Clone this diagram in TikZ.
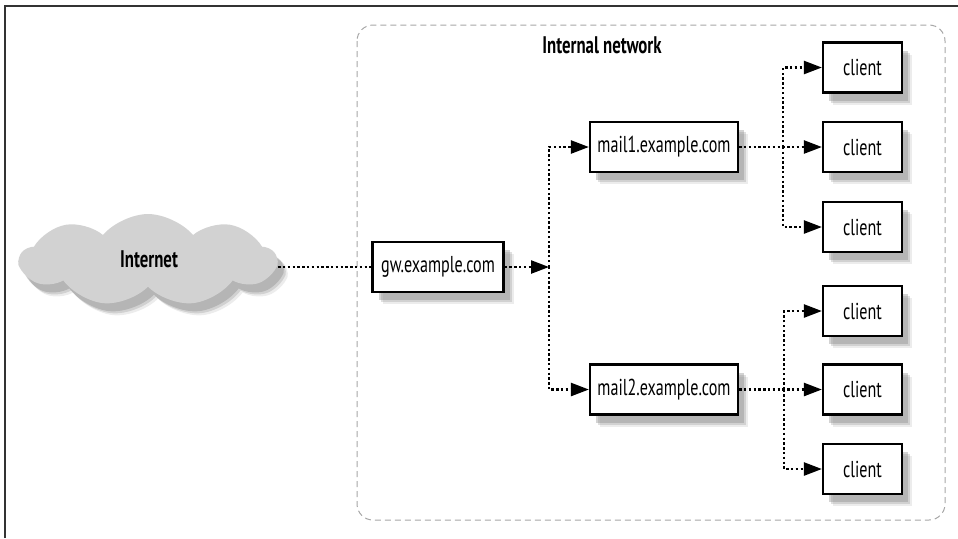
\documentclass[tikz,border=0pt]{standalone}
\usepackage{fontspec}
\setmainfont{PT Sans}[FakeStretch=0.7]
\usepackage{tikz}
\usetikzlibrary{arrows.meta, positioning, shapes.symbols, shadows}

\tikzset{
	softshadow/.style={
		drop shadow={shadow xshift=5pt, shadow yshift=-6pt, fill=gray, opacity=0.15},
		drop shadow={shadow xshift=4pt, shadow yshift=-5pt, fill=gray, opacity=0.25},
		drop shadow={shadow xshift=3pt, shadow yshift=-4pt, fill=gray, opacity=0.35}},
	hostbox/.style={draw=black, line width=1.1pt, fill=white, minimum height=25pt, inner sep=2pt, softshadow},
	clientbox/.style={hostbox, minimum width=39.5pt},
	mailbox/.style={hostbox, minimum width=74pt},
	titlelabel/.style={font=\bfseries\fontsize{12}{14}\selectfont},
	link/.style={line width=1.2pt, dash pattern=on 1.2pt off 1.2pt},
	linkarrow/.style={link, -{Triangle[length=9pt, width=6.5pt]}},
}

\begin{document}
\begin{tikzpicture}[x=0.5pt, y=-0.5pt, font=\fontsize{11.5}{13}\selectfont]
	\useasboundingbox (0,0) rectangle (958,538);
	% outer frame
	\draw[line width=0.9pt, black!80] (5,538) -- (5,6) -- (958,6);
	% internal network area
	\draw[gray!70, line width=0.5pt, dash pattern=on 3pt off 2pt, rounded corners=8pt] (357,25) rectangle (945,520);
	\node[titlelabel] (intlabel) at (602,45) {Internal network};
	%
	\node[cloud, cloud puffs=9, cloud puff arc=100, aspect=3.4, fill=gray!35, minimum width=128pt, minimum height=46pt,
		softshadow] (net) at (148,260) {};
	\node[titlelabel] (netlabel) at (149,259) {Internet};
	%
	\node[hostbox, minimum width=65.5pt] (gw) at (438,267) {gw.example.com};
	\node[mailbox] (mail1) at (664,147) {mail1.example.com};
	\node[mailbox] (mail2) at (664,389.5) {mail2.example.com};
	%
	\node[clientbox] (c1) at (862.5,67.5) {client};
	\node[clientbox] (c2) at (862.5,147) {client};
	\node[clientbox] (c3) at (862.5,227) {client};
	\node[clientbox] (c4) at (862.5,311) {client};
	\node[clientbox] (c5) at (862.5,389.5) {client};
	\node[clientbox] (c6) at (862.5,469) {client};
	%
	\coordinate (jgw) at (549,267);
	\coordinate (jm1) at (783,147);
	\coordinate (jm2) at (784,389.5);
	%
	\draw[link] (net.east |- gw.west) -- (gw.west);
	\draw[linkarrow] (gw.east) -- (jgw);
	\draw[linkarrow] (jgw) |- (mail1.west);
	\draw[linkarrow] (jgw) |- (mail2.west);
	%
	\draw[linkarrow] (mail1.east) -- (c2.west);
	\draw[linkarrow] (jm1) |- (c1.west);
	\draw[linkarrow] (jm1) |- (c3.west);
	%
	\draw[linkarrow] (mail2.east) -- (c5.west);
	\draw[linkarrow] (jm2) |- (c4.west);
	\draw[linkarrow] (jm2) |- (c6.west);
\end{tikzpicture}
\end{document}
